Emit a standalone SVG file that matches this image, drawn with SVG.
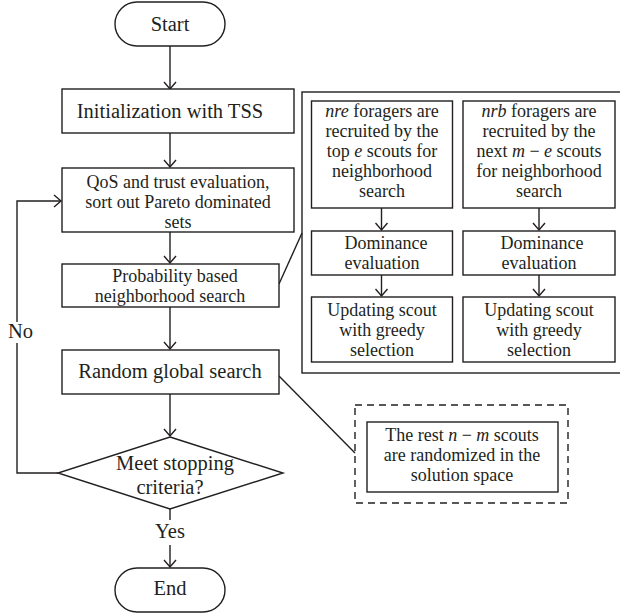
<svg xmlns="http://www.w3.org/2000/svg" width="620" height="614" viewBox="0 0 620 614">
<defs>
<style>
.b{fill:#fff;stroke:#231f20;stroke-width:1.4}
.l{fill:none;stroke:#231f20;stroke-width:1.4}
text{fill:#231f20;text-anchor:middle}
.i{font-style:italic}
</style>
<marker id="a" viewBox="-8 -7 10 14" markerWidth="10" markerHeight="14" refX="0" refY="0" orient="auto" markerUnits="userSpaceOnUse">
<path d="M-7,-6 L0,0 L-7,6" fill="none" stroke="#231f20" stroke-width="1.4"/>
</marker>
</defs>
<rect width="620" height="614" fill="#fff"/>
<g id="connectors">
<line class="l" x1="170" y1="46" x2="170" y2="89" marker-end="url(#a)"/>
<line class="l" x1="170" y1="133" x2="170" y2="167" marker-end="url(#a)"/>
<line class="l" x1="170" y1="232" x2="170" y2="263" marker-end="url(#a)"/>
<line class="l" x1="170" y1="307" x2="170" y2="349" marker-end="url(#a)"/>
<line class="l" x1="170" y1="394" x2="170" y2="436" marker-end="url(#a)"/>
<line class="l" x1="170" y1="509" x2="170" y2="520"/>
<line class="l" x1="170" y1="545" x2="170" y2="567" marker-end="url(#a)"/>
<polyline class="l" points="58,473 17,473 17,343"/>
<polyline class="l" points="17,322 17,201 61,201" marker-end="url(#a)"/>
<line class="l" x1="279" y1="284" x2="302" y2="233"/>
<line class="l" x1="279" y1="376" x2="355" y2="453"/>
<line class="l" x1="381.5" y1="208" x2="381.5" y2="230" marker-end="url(#a)"/>
<line class="l" x1="381.5" y1="275" x2="381.5" y2="296" marker-end="url(#a)"/>
<line class="l" x1="539" y1="208" x2="539" y2="230" marker-end="url(#a)"/>
<line class="l" x1="539" y1="275" x2="539" y2="296" marker-end="url(#a)"/>
<text x="170" y="538" font-family="Liberation Serif, serif" font-size="20.5">Yes</text>
<text x="20.5" y="338" font-family="Liberation Serif, serif" font-size="20.5">No</text>
</g>
<g id="start">
<rect class="b" x="115" y="2" width="110" height="44" rx="22"/>
<text x="170" y="31" font-family="Liberation Serif, serif" font-size="20.5">Start</text>
</g>
<g id="init">
<rect class="b" x="62" y="89" width="232" height="44"/>
<text x="170" y="118" font-family="Liberation Serif, serif" font-size="20.5">Initialization with TSS</text>
</g>
<g id="qos" font-family="Liberation Serif, serif" font-size="18">
<rect class="b" x="62" y="168" width="232" height="64"/>
<text x="178" y="188">QoS and trust evaluation,</text>
<text x="178" y="208">sort out Pareto dominated</text>
<text x="178" y="228">sets</text>
</g>
<g id="prob" font-family="Liberation Serif, serif" font-size="18">
<rect class="b" x="62" y="264" width="217" height="43"/>
<text x="175" y="282">Probability based</text>
<text x="170" y="302">neighborhood search</text>
</g>
<g id="random">
<rect class="b" x="62" y="350" width="217" height="44"/>
<text x="170" y="378" font-family="Liberation Serif, serif" font-size="20.5">Random global search</text>
</g>
<g id="decision" font-family="Liberation Serif, serif" font-size="20.5">
<polygon class="b" points="170,437 283,473 170,509 58,473"/>
<text x="175" y="470">Meet stopping</text>
<text x="170" y="494">criteria?</text>
</g>
<g id="end">
<rect class="b" x="115" y="568" width="110" height="44" rx="22"/>
<text x="170" y="595" font-family="Liberation Serif, serif" font-size="20.5">End</text>
</g>
<g id="neighborhood-detail" font-family="Liberation Serif, serif" font-size="18">
<rect class="l" x="302" y="92" width="322" height="281"/>
<g id="nre">
<rect class="b" x="311.5" y="101" width="141" height="107"/>
<text x="382" y="117"><tspan class="i">nre</tspan> foragers are</text>
<text x="382" y="137">recruited by the</text>
<text x="382" y="157">top <tspan class="i">e</tspan> scouts for</text>
<text x="382" y="177">neighborhood</text>
<text x="382" y="197">search</text>
</g>
<g id="nrb">
<rect class="b" x="463" y="101" width="152" height="107"/>
<text x="539" y="117"><tspan class="i">nrb</tspan> foragers are</text>
<text x="539" y="137">recruited by the</text>
<text x="539" y="157">next <tspan class="i">m</tspan> − <tspan class="i">e</tspan> scouts</text>
<text x="539" y="177">for neighborhood</text>
<text x="539" y="197">search</text>
</g>
<g id="dom1">
<rect class="b" x="311.5" y="231" width="141" height="44"/>
<text x="386" y="249">Dominance</text>
<text x="382" y="269">evaluation</text>
</g>
<g id="dom2">
<rect class="b" x="463" y="231" width="152" height="44"/>
<text x="542" y="249">Dominance</text>
<text x="539" y="269">evaluation</text>
</g>
<g id="upd1">
<rect class="b" x="311.5" y="297" width="141" height="65"/>
<text x="382" y="316">Updating scout</text>
<text x="382" y="336">with greedy</text>
<text x="382" y="356">selection</text>
</g>
<g id="upd2">
<rect class="b" x="463" y="297" width="152" height="65"/>
<text x="539" y="316">Updating scout</text>
<text x="539" y="336">with greedy</text>
<text x="539" y="356">selection</text>
</g>
</g>
<g id="global-detail" font-family="Liberation Serif, serif" font-size="18">
<rect x="355" y="405" width="213" height="98" fill="none" stroke="#231f20" stroke-width="1.4" stroke-dasharray="7,5"/>
<g id="rest">
<rect class="b" x="367" y="422" width="191" height="70"/>
<text x="462" y="441">The rest <tspan class="i">n</tspan> − <tspan class="i">m</tspan> scouts</text>
<text x="462" y="461">are randomized in the</text>
<text x="462" y="481">solution space</text>
</g>
</g>
</svg>
